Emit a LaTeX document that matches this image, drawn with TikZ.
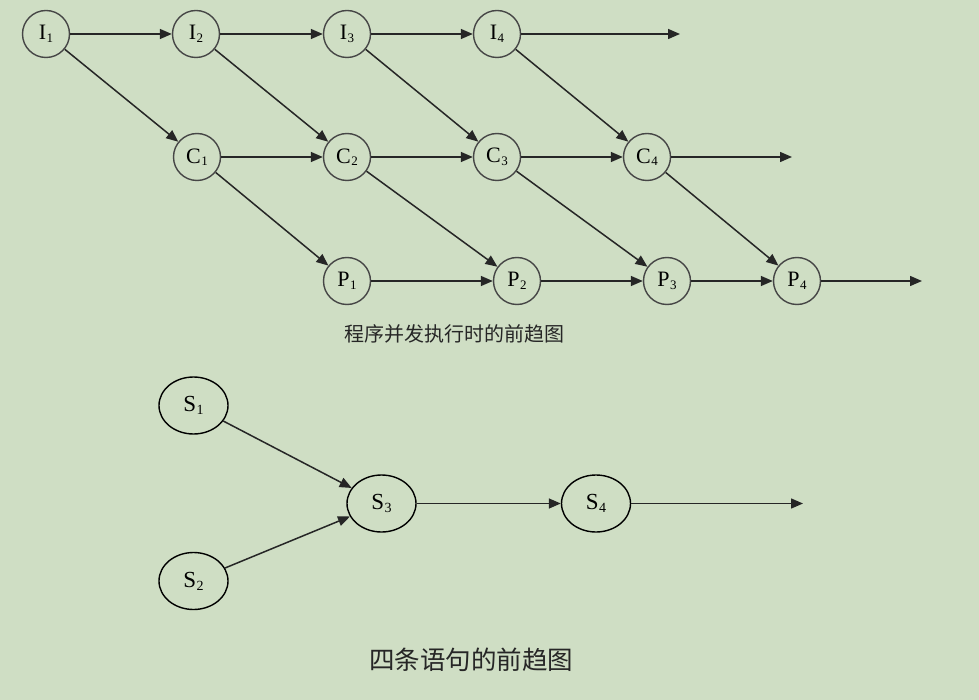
\documentclass[tikz,border=0pt]{standalone}
\usepackage{fontspec}
\setmainfont{Liberation Serif}
\newfontfamily\cjk{Noto Sans CJK SC}
\usetikzlibrary{arrows.meta,shapes.geometric}
\definecolor{bg}{RGB}{207,222,196}
\definecolor{topline}{RGB}{70,70,70}
\newcommand{\lbl}[2]{#1\kern0.5pt\raisebox{-0.25ex}{\fontsize{13}{13}\selectfont #2}}
\newcommand{\slbl}[2]{#1\kern0.3pt\raisebox{-0.3ex}{\fontsize{14}{14}\selectfont #2}}
\tikzset{
  pnode/.style={circle,draw=topline,line width=1.4pt,minimum size=47pt,inner sep=0pt,font=\fontsize{22}{22}\selectfont},
  snode/.style={ellipse,draw=black,line width=1.4pt,minimum width=69pt,minimum height=57pt,inner sep=0pt,font=\fontsize{23}{23}\selectfont},
  parr/.style={draw=black!85,line width=1.5pt,-{Triangle[length=12pt,width=10pt]}},
}
\begin{document}
\begin{tikzpicture}[x=1pt,y=-1pt]
\fill[bg] (0,0) rectangle (979,700);
\useasboundingbox (0,0) rectangle (979,700);
% top graph
\node[pnode] (I1) at (46,34) {\lbl{I}{1}};
\node[pnode] (I2) at (196,34) {\lbl{I}{2}};
\node[pnode] (I3) at (347,34) {\lbl{I}{3}};
\node[pnode] (I4) at (497,34) {\lbl{I}{4}};
\node[pnode] (C1) at (197,157) {\lbl{C}{1}};
\node[pnode] (C2) at (347,157) {\lbl{C}{2}};
\node[pnode] (C3) at (497,157) {\lbl{C}{3}};
\node[pnode] (C4) at (647,157) {\lbl{C}{4}};
\node[pnode] (P1) at (347,281) {\lbl{P}{1}};
\node[pnode] (P2) at (517,281) {\lbl{P}{2}};
\node[pnode] (P3) at (667,281) {\lbl{P}{3}};
\node[pnode] (P4) at (797,281) {\lbl{P}{4}};
\coordinate (Iend) at (680,34);
\coordinate (Cend) at (792,157);
\coordinate (Pend) at (922,281);
\draw[parr] (I1) -- (I2);
\draw[parr] (I2) -- (I3);
\draw[parr] (I3) -- (I4);
\draw[parr] (I4) -- (Iend);
\draw[parr] (C1) -- (C2);
\draw[parr] (C2) -- (C3);
\draw[parr] (C3) -- (C4);
\draw[parr] (C4) -- (Cend);
\draw[parr] (P1) -- (P2);
\draw[parr] (P2) -- (P3);
\draw[parr] (P3) -- (P4);
\draw[parr] (P4) -- (Pend);
\draw[parr] (I1) -- (C1);
\draw[parr] (I2) -- (C2);
\draw[parr] (I3) -- (C3);
\draw[parr] (I4) -- (C4);
\draw[parr] (C1) -- (P1);
\draw[parr] (C2) -- (P2);
\draw[parr] (C3) -- (P3);
\draw[parr] (C4) -- (P4);
\node[font=\cjk\fontsize{20}{20}\selectfont, text=black!85] (cap1) at (454,334) {程序并发执行时的前趋图};
% bottom graph
\node[snode] (S1) at (193.5,405.5) {\slbl{S}{1}};
\node[snode] (S2) at (193.5,581) {\slbl{S}{2}};
\node[snode] (S3) at (381.5,503.5) {\slbl{S}{3}};
\node[snode] (S4) at (596,503.5) {\slbl{S}{4}};
\coordinate (Send) at (803,503.5);
\draw[parr] (S1) -- (S3);
\draw[parr] (S2) -- (S3);
\draw[parr] (S3) -- (S4);
\draw[parr] (S4) -- (Send);
\node[font=\cjk\fontsize{25.5}{25.5}\selectfont, text=black!85] (cap2) at (471,660) {四条语句的前趋图};
\end{tikzpicture}
\end{document}
